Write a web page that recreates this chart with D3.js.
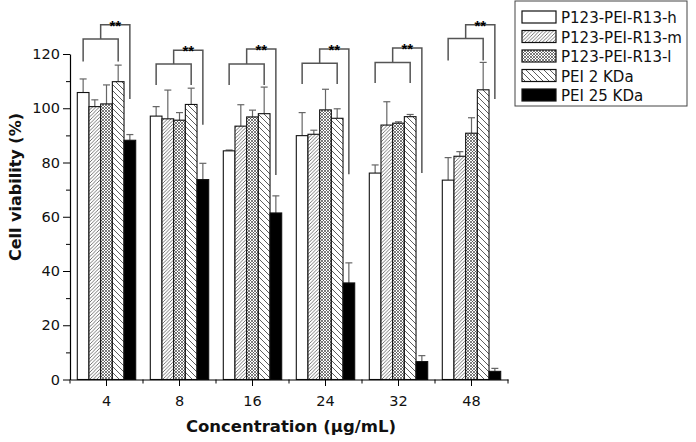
<!DOCTYPE html>
<html>
<head>
<meta charset="utf-8">
<script src="https://cdn.jsdelivr.net/npm/d3@7"></script>
<style>
  html, body { margin: 0; padding: 0; background: #fff; }
  svg { display: block; }
  text { font-family: "DejaVu Sans", sans-serif; fill: #111; }
</style>
</head>
<body>
<svg id="chart" width="696" height="442"></svg>
<script>
// ---------- data ----------
const categories = ["4", "8", "16", "24", "32", "48"];
const seriesNames = ["P123-PEI-R13-h", "P123-PEI-R13-m", "P123-PEI-R13-l", "PEI 2 KDa", "PEI 25 KDa"];
const valuesH   = [105.8, 97.1, 84.3, 89.9, 76.1, 73.5];
const errH      = [5.0, 3.5, 0.3, 8.5, 3.0, 8.3];
const valuesM   = [100.6, 96.1, 93.4, 90.4, 93.8, 82.3];
const errM      = [2.5, 10.6, 7.9, 1.5, 8.6, 1.7];
const valuesL   = [101.6, 95.6, 96.8, 99.4, 94.5, 90.8];
const errL      = [7.0, 2.8, 2.5, 7.6, 0.5, 5.7];
const values2K  = [109.8, 101.4, 98.0, 96.3, 96.9, 106.8];
const err2K     = [6.1, 6.0, 9.8, 3.5, 0.8, 10.1];
const values25K = [88.2, 73.7, 61.4, 35.6, 6.6, 3.0];
const err25K    = [2.1, 6.0, 6.3, 7.4, 2.2, 1.1];
const yMajorTicks = [0, 20, 40, 60, 80, 100, 120];
const yMinorTicks = [10, 30, 50, 70, 90, 110];
// significance brackets (in y units)
const bracketInner  = [125.5, 116.3, 116.3, 116.6, 116.9, 125.7];
const bracketLegEnd = [117.2, 108.6, 108.6, 108.9, 109.3, 117.6];
const bracketOuter  = [130.8, 121.4, 121.8, 121.8, 122.2, 130.8];
const bracketDrop   = [103.4, 93.9, 75.4, 75.7, 76.1, 103.4];
const sigLabel = "**";
const xTitle = "Concentration (µg/mL)";
const yTitle = "Cell viability (%)";

const seriesValues = [valuesH, valuesM, valuesL, values2K, values25K];
const seriesErrors = [errH, errM, errL, err2K, err25K];
const fills = ["#fff", "url(#pM)", "url(#pL)", "url(#p2K)", "#000"];

// ---------- layout ----------
const svg = d3.select("#chart");
const mLeft = 70, mRight = 508, mTop = 54, mBottom = 379.5;

const x = d3.scaleBand().domain(categories).range([mLeft, mRight]).paddingInner(0).paddingOuter(0);
const xs = d3.scaleBand().domain(d3.range(seriesNames.length))
  .range([x.bandwidth() * 0.1, x.bandwidth() * 0.9]).padding(0);
const y = d3.scaleLinear().domain([0, 120]).range([mBottom, mTop]);

// ---------- patterns ----------
const defs = svg.append("defs");
function hatch(id, size, paths, color, w) {
  const p = defs.append("pattern").attr("id", id).attr("patternUnits", "userSpaceOnUse")
    .attr("width", size).attr("height", size);
  p.append("rect").attr("width", size).attr("height", size).attr("fill", "#fff");
  paths.forEach(d => p.append("path").attr("d", d).attr("stroke", color).attr("stroke-width", w).attr("fill", "none"));
}
{
  const s = 3.5;
  hatch("pM", s, [`M0,${s} L${s},0`, `M${-s/2},${s/2} L${s/2},${-s/2}`, `M${s/2},${s*1.5} L${s*1.5},${s/2}`], "#555", 0.8);
  const c = 3;
  hatch("pL", c, [`M0,${c} L${c},0`, `M${-c/2},${c/2} L${c/2},${-c/2}`, `M${c/2},${c*1.5} L${c*1.5},${c/2}`,
                  `M0,0 L${c},${c}`, `M${-c/2},${c/2} L${c/2},${c*1.5}`, `M${c/2},${-c/2} L${c*1.5},${c/2}`], "#444", 0.7);
  const b = 6;
  hatch("p2K", b, [`M0,0 L${b},${b}`, `M${-b/2},${b/2} L${b/2},${b*1.5}`, `M${b/2},${-b/2} L${b*1.5},${b/2}`], "#333", 0.8);
}

// ---------- bars ----------
const groups = svg.append("g").selectAll("g").data(categories).join("g")
  .attr("transform", d => `translate(${x(d)},0)`);

groups.each(function(cat, ci) {
  const g = d3.select(this);
  seriesNames.forEach((s, si) => {
    const v = seriesValues[si][ci], e = seriesErrors[si][ci];
    const bx = xs(si), bw = xs.bandwidth(), cx = bx + bw / 2;
    g.append("line").attr("x1", cx).attr("x2", cx).attr("y1", y(v)).attr("y2", y(v + e))
      .attr("stroke", "#666").attr("stroke-width", 1.2);
    g.append("line").attr("x1", cx - 3.5).attr("x2", cx + 3.5).attr("y1", y(v + e)).attr("y2", y(v + e))
      .attr("stroke", "#666").attr("stroke-width", 1.2);
    g.append("rect").attr("x", bx).attr("y", y(v)).attr("width", bw).attr("height", y(0) - y(v))
      .attr("fill", fills[si]).attr("stroke", "#111").attr("stroke-width", 1.1);
  });
  const xl = xs(0) + xs.bandwidth() / 2, xr = xs(3) + xs.bandwidth() / 2, xo = xs(4) + xs.bandwidth() / 2;
  const xm = (xl + xr) / 2;
  const yi = y(bracketInner[ci]), yle = y(bracketLegEnd[ci]), yo = y(bracketOuter[ci]), yd = y(bracketDrop[ci]);
  g.append("path")
    .attr("d", `M${xl},${yle} L${xl},${yi} L${xr},${yi} L${xr},${yle} M${xm},${yi} L${xm},${yo} L${xo},${yo} L${xo},${yd}`)
    .attr("fill", "none").attr("stroke", "#555").attr("stroke-width", 1.5);
  g.append("text").attr("x", (xm + xo) / 2).attr("y", yo + 6).attr("text-anchor", "middle")
    .style("font-family", "'Liberation Sans', Arial, sans-serif").style("fill", "#000")
    .attr("font-weight", "bold").attr("font-size", 15).text(sigLabel);
});

// ---------- axes ----------
const yAxis = svg.append("g").attr("transform", `translate(${mLeft},0)`)
  .call(d3.axisLeft(y).tickValues(yMajorTicks).tickSize(7).tickPadding(3).tickSizeOuter(0));
svg.append("g").attr("transform", `translate(${mLeft},0)`)
  .call(d3.axisLeft(y).tickValues(yMinorTicks).tickSize(4).tickFormat("").tickSizeOuter(0))
  .select(".domain").remove();
yAxis.selectAll("text").attr("font-size", 14.5).style("font-family", "DejaVu Sans").attr("fill", "#111");

const xAxis = svg.append("g").attr("transform", `translate(0,${mBottom})`)
  .call(d3.axisBottom(x).tickSize(6.5).tickPadding(10).tickSizeOuter(0));
xAxis.selectAll("text").attr("font-size", 14.5).style("font-family", "DejaVu Sans").attr("fill", "#111");
const boundaries = categories.map(c => x(c)).concat([mRight]);
svg.append("g").selectAll("line").data(boundaries).join("line")
  .attr("x1", d => d).attr("x2", d => d).attr("y1", mBottom).attr("y2", mBottom + 4)
  .attr("stroke", "#000");
svg.selectAll(".domain").attr("stroke", "#000").attr("stroke-width", 1.2);

// ---------- titles ----------
svg.append("text").attr("x", (mLeft + mRight) / 2 + 2).attr("y", 432).attr("text-anchor", "middle")
  .attr("font-size", 16.5).attr("font-weight", "bold").text(xTitle);
svg.append("text").attr("transform", "translate(21,187) rotate(-90)").attr("text-anchor", "middle")
  .attr("font-size", 16).attr("font-weight", "bold").text(yTitle);

// ---------- legend ----------
const lg = svg.append("g");
lg.append("rect").attr("x", 515).attr("y", 1).attr("width", 172).attr("height", 105)
  .attr("fill", "#fff").attr("stroke", "#444").attr("stroke-width", 1);
seriesNames.forEach((s, i) => {
  const ty = 11 + i * 19.5;
  lg.append("rect").attr("x", 522).attr("y", ty).attr("width", 34).attr("height", 12)
    .attr("fill", fills[i]).attr("stroke", "#111").attr("stroke-width", 1.2);
  lg.append("text").attr("x", 561).attr("y", ty + 12).attr("font-size", 15).text(s);
});
</script>
</body>
</html>
